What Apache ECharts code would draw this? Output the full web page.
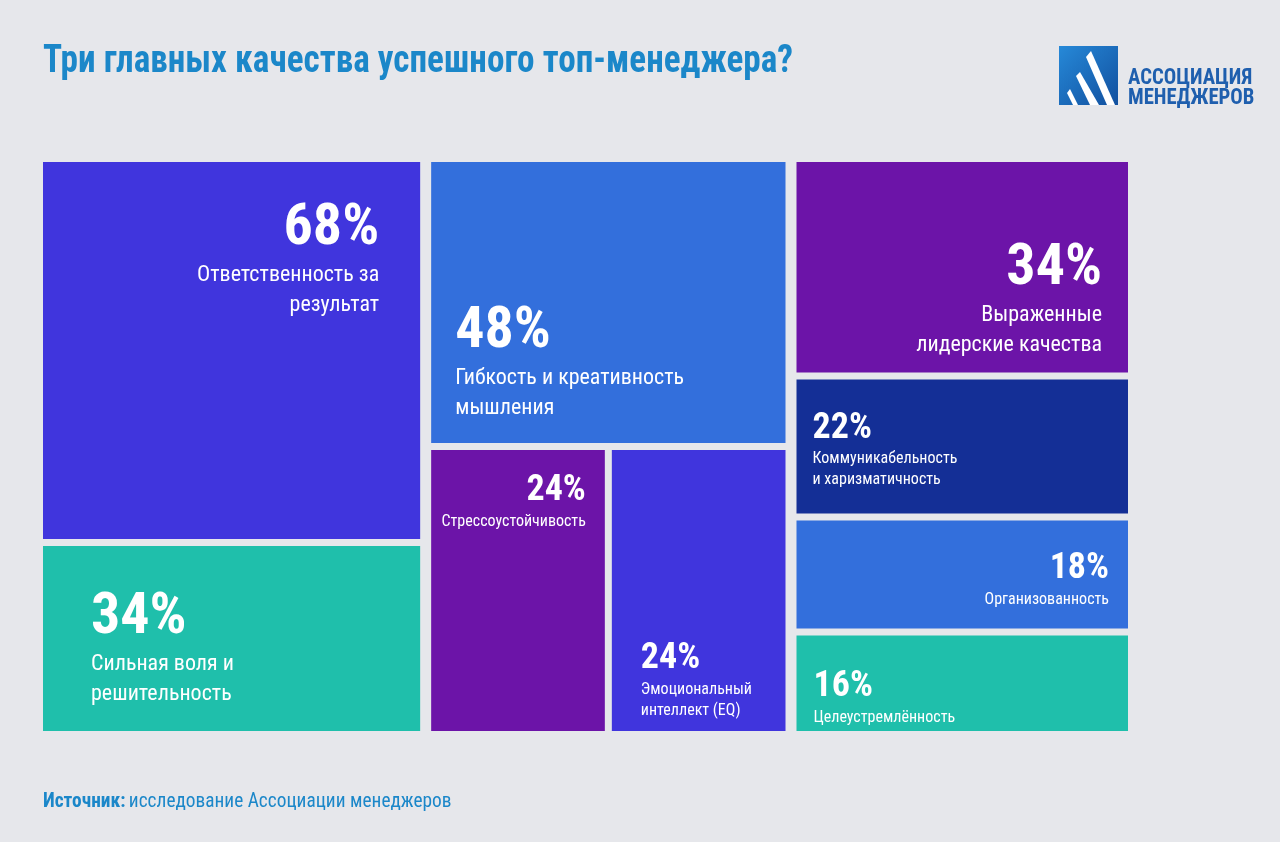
<!DOCTYPE html>
<html><head><meta charset="utf-8">
<script src="https://cdn.jsdelivr.net/npm/echarts@6/dist/echarts.min.js"></script>
<style>html,body{margin:0;padding:0;background:#e6e7eb}#c{width:1280px;height:842px}</style>
</head><body><div id="c"></div><script>
// ---------- data ----------
const titleText = 'Три главных качества успешного топ-менеджера?';
const sourceLabel = 'Источник:';
const sourceText = 'исследование Ассоциации менеджеров';
const logoLines = ['АССОЦИАЦИЯ', 'МЕНЕДЖЕРОВ'];

const categories = [
  'Ответственность за\nрезультат',
  'Сильная воля и\nрешительность',
  'Гибкость и креативность\nмышления',
  'Стрессоустойчивость',
  'Эмоциональный\nинтеллект (EQ)',
  'Выраженные\nлидерские качества',
  'Коммуникабельность\nи харизматичность',
  'Организованность',
  'Целеустремлённость'
];
const values = [68, 34, 48, 24, 24, 34, 22, 18, 16];
// grouping of the items (indices into the arrays above)
const groups = [[0, 1], [2, 3, 4], [[[5, 6], 7], 8]];

// ---------- styles ----------
const FONT = "'Liberation Sans Narrow', 'Roboto Condensed', 'DejaVu Sans Condensed', sans-serif";
const BG = '#e6e7eb';
const BLUE = '#1b87c9';
const cellColors = ['#4035dd', '#1fbfab', '#336fdc', '#6c14a8', '#4035dd', '#6c14a8', '#142f96', '#336fdc', '#1fbfab'];
const labelStyles = [
  {size: 'big',   side: 'right', padX: 36, anchor: 'top',    padY: 31},
  {size: 'big',   side: 'left',  padX: 43, anchor: 'bottom', padY: 27},
  {size: 'big',   side: 'left',  padX: 19, anchor: 'bottom', padY: 25},
  {size: 'small', side: 'right', padX: 14, anchor: 'top',    padY: 16},
  {size: 'small', side: 'left',  padX: 24, anchor: 'bottom', padY: 15},
  {size: 'big',   side: 'right', padX: 21, anchor: 'bottom', padY: 17},
  {size: 'small', side: 'left',  padX: 11, anchor: 'top',    padY: 24},
  {size: 'small', side: 'right', padX: 14, anchor: 'middle', padY: 0},
  {size: 'small', side: 'left',  padX: 12, anchor: 'bottom', padY: 8}
];
const TXT = {
  big:   {pSize: 58, pLH: 62, dSize: 22, dLH: 30},
  small: {pSize: 36, pLH: 40, dSize: 16, dLH: 21}
};
const LEAF_BORDER = 3.5;

function blockHeight(i) {
  const t = TXT[labelStyles[i].size];
  return t.pLH + t.dLH * categories[i].split('\n').length;
}

function leaf(i, sizes) {
  const ls = labelStyles[i];
  let offY = ls.padY - ls.padX;
  const s = sizes && sizes[i];
  if (s) {
    const bh = blockHeight(i);
    if (ls.anchor === 'bottom') offY = s.h - ls.padY - bh - ls.padX;
    else if (ls.anchor === 'middle') offY = (s.h - bh) / 2 - ls.padX;
  }
  return {
    name: categories[i].replace('\n', ' '),
    value: values[i],
    idx: i,
    itemStyle: {color: cellColors[i], borderWidth: LEAF_BORDER, borderColor: BG},
    label: {
      position: ls.side === 'right' ? 'insideTopRight' : 'insideTopLeft',
      distance: ls.padX,
      offset: [0, offY]
    }
  };
}
function build(node, sizes) {
  if (Array.isArray(node)) return {children: node.map(n => build(n, sizes))};
  return leaf(node, sizes);
}

function buildOption(sizes) {
  return {
    backgroundColor: BG,
    animation: false,
    graphic: [
      {type: 'text', left: 43, top: 43, scaleX: 0.926, originX: 0,
        style: {text: titleText, fill: BLUE, font: 'bold 38px ' + FONT}},
      {type: 'text', left: 43, top: 792, scaleX: 0.967, originX: 0, style: {
        text: '{b|' + sourceLabel + '} {r|' + sourceText + '}',
        rich: {
          b: {fontFamily: FONT, fontWeight: 'bold', fontSize: 20, fill: BLUE, color: BLUE},
          r: {fontFamily: FONT, fontSize: 20, fill: BLUE, color: BLUE}
        }
      }},
      {type: 'group', left: 1059, top: 46, children: [
        {type: 'rect', shape: {x: 0, y: 0, width: 59, height: 59}, style: {
          fill: {type: 'linear', x: 0, y: 0, x2: 1, y2: 1, colorStops: [{offset: 0, color: '#2689d8'}, {offset: 1, color: '#12509f'}]}
        }},
        {type: 'polygon', shape: {points: [[27, 11], [32, 5], [56, 59], [48, 59]]}, style: {fill: '#fff'}},
        {type: 'polygon', shape: {points: [[17, 30], [21, 26], [40, 59], [31, 59]]}, style: {fill: '#fff'}},
        {type: 'polygon', shape: {points: [[8, 47], [11, 43], [19, 59], [14, 59]]}, style: {fill: '#fff'}}
      ]},
      {type: 'text', left: 1128, top: 67, scaleX: 0.94, originX: 0, style: {text: logoLines[0], fill: '#1f5fae', font: 'bold 22px ' + FONT}},
      {type: 'text', left: 1128, top: 87, scaleX: 0.94, originX: 0, style: {text: logoLines[1], fill: '#1f5fae', font: 'bold 22px ' + FONT}}
    ],
    series: [{
      type: 'treemap',
      left: 43 - LEAF_BORDER,
      top: 162 - LEAF_BORDER,
      width: 1085 + 2 * LEAF_BORDER,
      height: 569 + 2 * LEAF_BORDER,
      roam: false,
      nodeClick: false,
      breadcrumb: {show: false},
      squareRatio: 1,
      sort: false,
      visibleMin: 0,
      itemStyle: {borderWidth: 0, gapWidth: 0, borderColor: BG},
      levels: [{itemStyle: {borderWidth: 0, gapWidth: 4, borderColor: BG}}],
      emphasis: {disabled: true},
      label: {
        show: true,
        color: '#fff',
        fontFamily: FONT,
        overflow: 'none',
        formatter: function (p) {
          const i = p.data && p.data.idx;
          if (i == null) return '';
          const big = labelStyles[i].size === 'big';
          const pk = big ? 'pb' : 'ps', dk = big ? 'db' : 'ds';
          return '{' + pk + '|' + values[i] + '%}\n' +
            categories[i].split('\n').map(l => '{' + dk + '|' + l + '}').join('\n');
        },
        rich: {
          pb: {fontFamily: FONT, fontWeight: 'bold', fontSize: TXT.big.pSize, lineHeight: TXT.big.pLH, color: '#fff'},
          db: {fontFamily: FONT, fontSize: TXT.big.dSize, lineHeight: TXT.big.dLH, color: '#fff'},
          ps: {fontFamily: FONT, fontWeight: 'bold', fontSize: TXT.small.pSize, lineHeight: TXT.small.pLH, color: '#fff'},
          ds: {fontFamily: FONT, fontSize: TXT.small.dSize, lineHeight: TXT.small.dLH, color: '#fff'}
        }
      },
      data: groups.map(g => build(g, sizes))
    }]
  };
}

function readLeafSizes(chart) {
  const out = {};
  try {
    const sm = chart.getModel().getSeriesByIndex(0);
    const tree = sm.getData().tree;
    tree.root.eachNode(function (node) {
      if (node.children && node.children.length) return;
      const opt = node.getModel().option;
      const L = node.getLayout();
      if (opt && opt.idx != null && L) {
        const bw = L.borderWidth != null ? L.borderWidth : LEAF_BORDER;
        out[opt.idx] = {w: L.width - 2 * bw, h: L.height - 2 * bw};
      }
    });
  } catch (e) {}
  return out;
}

const chart = echarts.init(document.getElementById('c'), null, {renderer: 'canvas'});
chart.setOption(buildOption(null));
const sizes = readLeafSizes(chart);
if (Object.keys(sizes).length) chart.setOption(buildOption(sizes), {notMerge: true});
</script></body></html>
